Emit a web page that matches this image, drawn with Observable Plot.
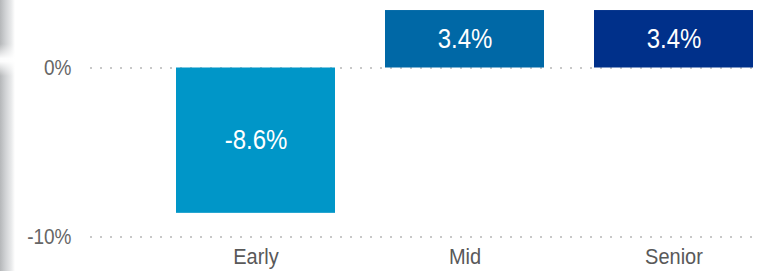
<!DOCTYPE html>
<html>
<head>
<meta charset="utf-8">
<script src="https://cdn.jsdelivr.net/npm/d3@7"></script>
<script src="https://cdn.jsdelivr.net/npm/@observablehq/plot@0.6"></script>
<style>
  html, body { margin: 0; padding: 0; background: #fff; }
  #wrap { position: relative; width: 758px; height: 271px; overflow: hidden; }
  #strip { position: absolute; left: 0; top: 0; width: 15px; height: 271px;
    background: linear-gradient(to right, #b5b7b9 0%, #cfd1d3 35%, #e9eaeb 75%, #ffffff 100%); }
  #notch { position: absolute; left: 0; top: 44px; width: 15px; height: 32px;
    background: linear-gradient(to bottom, rgba(255,255,255,0) 0%, rgba(255,255,255,0.95) 45%, rgba(255,255,255,0.95) 55%, rgba(255,255,255,0) 100%); }
  #chart { position: absolute; left: 0; top: 0; }
</style>
</head>
<body>
<div id="wrap"><div id="strip"></div><div id="notch"></div><div id="chart"></div></div>
<script>
const categories = ["Early", "Mid", "Senior"];
const values = [-8.6, 3.4, 3.4];
const colors = ["#0096c8", "#0068a6", "#00308a"];
const yTicks = [0, -10];

const data = categories.map((c, i) => ({category: c, value: values[i]}));

const chart = Plot.plot({
  width: 758,
  height: 271,
  marginLeft: 90,
  marginRight: 3,
  marginTop: 0,
  marginBottom: 28,
  style: {fontFamily: "'Liberation Sans', Arial, sans-serif", background: "transparent"},
  x: {domain: categories, range: [176, 753], paddingInner: 0.24, paddingOuter: 0, label: null},
  y: {domain: [-10, 0], range: [236.5, 67.5], label: null},
  color: {domain: categories, range: colors},
  marks: [
    Plot.ruleY(yTicks, {stroke: "#c8c8c8", strokeWidth: 2, strokeDasharray: "2,8"}),
    Plot.barY(data, {x: "category", y: "value", fill: "category"}),
    Plot.text(data, {x: "category", y: d => d.value / 2, text: d => `${d.value.toFixed(1)}%`,
      fill: "white", fontSize: 24}),
    Plot.axisY(yTicks, {tickSize: 0, tickPadding: 19, tickFormat: d => `${d}%`,
      fontSize: 19, color: "#666", label: null}),
    Plot.axisX({tickSize: 0, tickPadding: 5, fontSize: 20, color: "#595959", label: null})
  ]
});
document.getElementById("chart").appendChild(chart);

// The reference text is slightly taller than wide: stretch each label vertically about its own centre.
chart.querySelectorAll("text").forEach(t => {
  const b = t.getBBox();
  const cy = b.y + b.height / 2;
  const old = t.getAttribute("transform") || "";
  t.setAttribute("transform", `${old} translate(0,${cy}) scale(1,1.13) translate(0,${-cy})`);
});
</script>
</body>
</html>
